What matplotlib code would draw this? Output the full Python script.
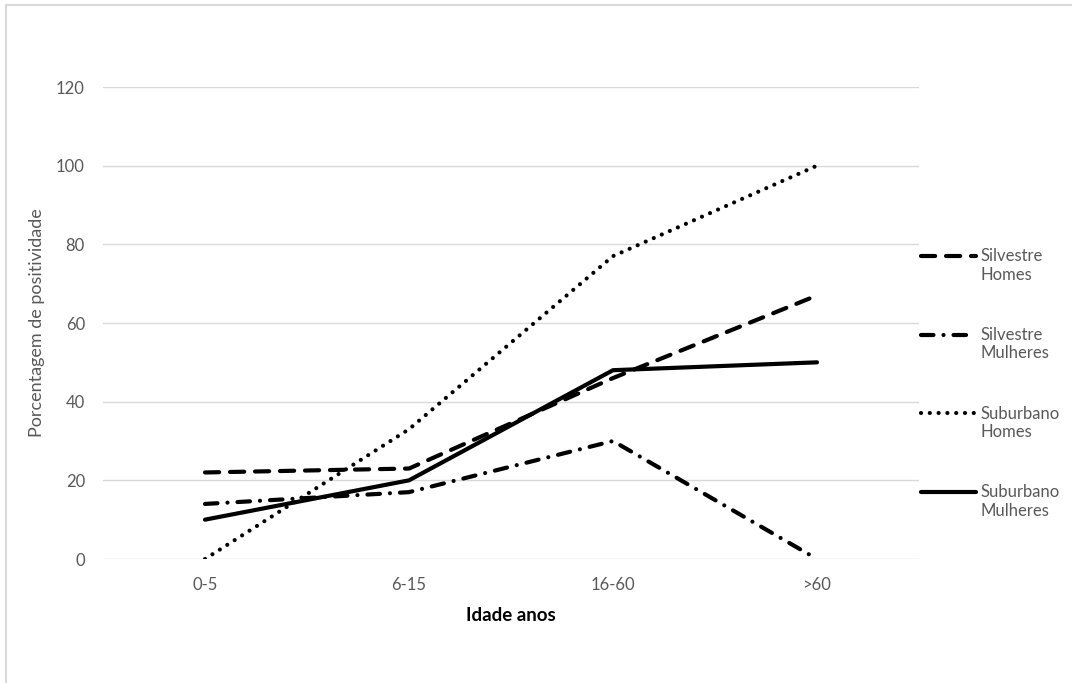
import matplotlib
matplotlib.use("Agg")
import numpy as np
from matplotlib import pyplot as plt
from matplotlib.lines import Line2D
from matplotlib.legend_handler import HandlerLine2D

plt.rcParams['font.family'] = ['Lato', 'DejaVu Sans']

# data
age_groups = ['0-5', '6-15', '16-60', '>60']
silvestre_homes = [22, 23, 46, 67]
silvestre_mulheres = [14, 17, 30, 0]
suburbano_homes = [0, 33, 77, 100]
suburbano_mulheres = [10, 20, 48, 50]
yticks = [0, 20, 40, 60, 80, 100, 120]


class FirstLineHandler(HandlerLine2D):
    # put the legend line next to the first line of a two-line label
    def create_artists(self, legend, orig_handle, xdescent, ydescent, width, height, fontsize, trans):
        artists = super().create_artists(legend, orig_handle, xdescent, ydescent,
                                         width, height, fontsize, trans)
        for a in artists:
            a.set_ydata(np.asarray(a.get_ydata()) + 0.6 * fontsize)
        return artists


W, H = 1072, 683
fig = plt.figure(figsize=(W / 100, H / 100), dpi=100)
ax = fig.add_axes([103 / W, (H - 559) / H, (919 - 103) / W, (559 - 87) / H])

x = range(len(age_groups))
lw = 3
ax.plot(x, silvestre_homes, color='black', lw=lw, linestyle=(0, (3.4, 2.6)),
        dash_capstyle='round', label='Silvestre\nHomes')
ax.plot(x, silvestre_mulheres, color='black', lw=lw, linestyle=(0, (3.0, 2.4, 0.01, 2.4)),
        dash_capstyle='round', label='Silvestre\nMulheres')
ax.plot(x, suburbano_homes, color='black', lw=lw, linestyle=(0, (0.01, 2.1)),
        dash_capstyle='round', label='Suburbano\nHomes')
ax.plot(x, suburbano_mulheres, color='black', lw=lw, linestyle='-',
        solid_capstyle='round', label='Suburbano\nMulheres')

ax.set_xlim(-0.5, len(age_groups) - 0.5)
ax.set_ylim(0, 120)
ax.set_xticks(list(x))
ax.set_xticklabels(age_groups)
ax.set_yticks(yticks)
ax.grid(axis='y', color='#d9d9d9', lw=1)
ax.set_axisbelow(True)
for s in ax.spines.values():
    s.set_visible(False)
ax.tick_params(length=0, colors='#595959', labelsize=12)
ax.tick_params(axis='y', pad=13)
ax.tick_params(axis='x', pad=13)

ax.set_xlabel('Idade anos', fontsize=13.5, fontweight='bold', color='black', labelpad=10)
ax.set_ylabel('Porcentagem de positividade', fontsize=13, color='#595959', labelpad=8)

handles, labels = ax.get_legend_handles_labels()
leg = fig.legend(handles, labels, loc='upper left', bbox_to_anchor=(906 / W, 1 - 233 / H),
                 frameon=False, handlelength=3.3, labelspacing=2.65, fontsize=12,
                 handletextpad=0.25, handler_map={Line2D: FirstLineHandler()})
for t in leg.get_texts():
    t.set_color('#595959')

# chart area border (top and left edges visible in the crop)
fig.add_artist(Line2D([6 / W, 6 / W], [0, 1 - 5 / H], color='#d9d9d9', lw=1.5))
fig.add_artist(Line2D([6 / W, 1], [1 - 5 / H, 1 - 5 / H], color='#d9d9d9', lw=1.5))

fig.savefig('out.png', dpi=100)
